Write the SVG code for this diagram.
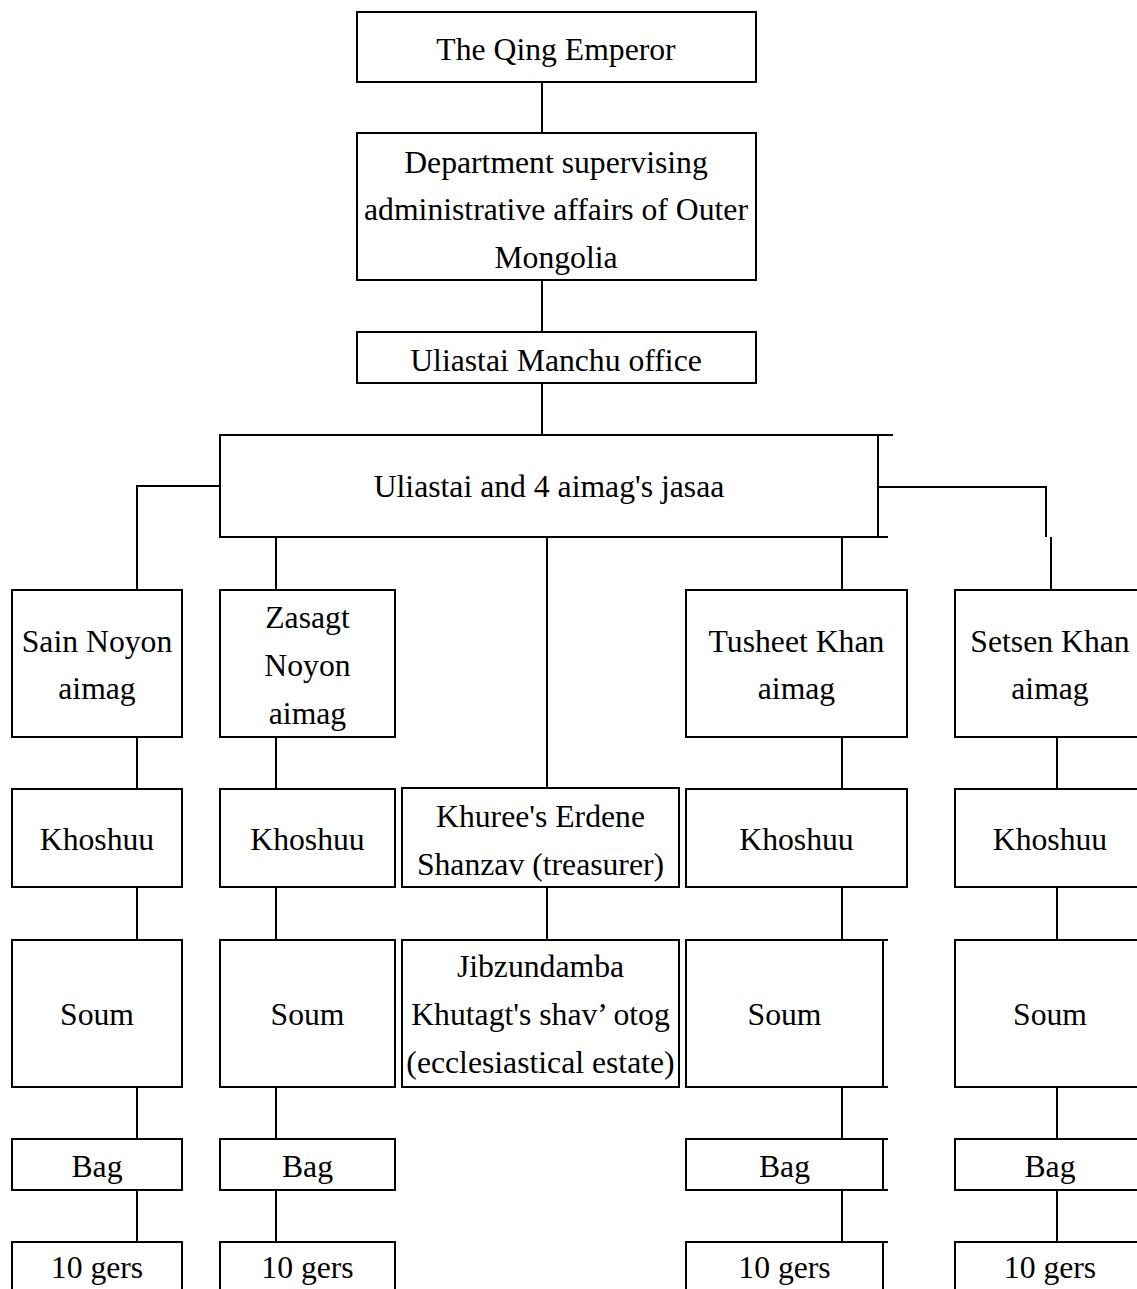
<svg xmlns="http://www.w3.org/2000/svg" width="1137" height="1289" viewBox="0 0 1137 1289">
<style>
.b{fill:#fff;stroke:#000;stroke-width:2}
.l{fill:none;stroke:#000;stroke-width:2}
text{font-family:"Liberation Serif","Times New Roman",serif;font-size:31.7px;fill:#000;text-anchor:middle}
</style>
<rect width="1137" height="1289" fill="#fff"/>
<g id="connectors" class="l">
<line x1="542" y1="82" x2="542" y2="133"/>
<line x1="542" y1="280" x2="542" y2="332"/>
<line x1="542" y1="383" x2="542" y2="435"/>
<polyline points="220,486 137,486 137,590"/>
<line x1="276" y1="537" x2="276" y2="590"/>
<line x1="547" y1="537" x2="547" y2="788"/>
<line x1="842" y1="537" x2="842" y2="590"/>
<polyline points="878,487 1046,487 1046,537"/>
<line x1="1051" y1="537" x2="1051" y2="590"/>
<line x1="137" y1="737" x2="137" y2="789"/>
<line x1="137" y1="887" x2="137" y2="940"/>
<line x1="137" y1="1087" x2="137" y2="1139"/>
<line x1="137" y1="1190" x2="137" y2="1242"/>
<line x1="276" y1="737" x2="276" y2="789"/>
<line x1="276" y1="887" x2="276" y2="940"/>
<line x1="276" y1="1087" x2="276" y2="1139"/>
<line x1="276" y1="1190" x2="276" y2="1242"/>
<line x1="547" y1="887" x2="547" y2="940"/>
<line x1="842" y1="737" x2="842" y2="789"/>
<line x1="842" y1="887" x2="842" y2="940"/>
<line x1="842" y1="1087" x2="842" y2="1139"/>
<line x1="842" y1="1190" x2="842" y2="1242"/>
<line x1="1057" y1="737" x2="1057" y2="789"/>
<line x1="1057" y1="887" x2="1057" y2="940"/>
<line x1="1057" y1="1087" x2="1057" y2="1139"/>
<line x1="1057" y1="1190" x2="1057" y2="1242"/>
</g>
<g id="qing"><rect class="b" x="357" y="12" width="399" height="70"/><text x="556" y="60">The Qing Emperor</text></g>
<g id="department"><rect class="b" x="357" y="133" width="399" height="147"/><text x="556" y="173">Department supervising</text><text x="556" y="220">administrative affairs of Outer</text><text x="556" y="268">Mongolia</text></g>
<g id="manchu-office"><rect class="b" x="357" y="332" width="399" height="51"/><text x="556" y="371">Uliastai Manchu office</text></g>
<g id="jasaa"><rect class="b" x="220" y="435" width="658" height="102"/><line class="l" x1="878" y1="435" x2="893" y2="435"/><line class="l" x1="878" y1="537" x2="888" y2="537"/><text x="549" y="497">Uliastai and 4 aimag's jasaa</text></g>
<g id="sain-noyon"><rect class="b" x="12" y="590" width="170" height="147"/><text x="97" y="652">Sain Noyon</text><text x="97" y="699">aimag</text></g>
<g id="zasagt"><rect class="b" x="220" y="590" width="175" height="147"/><text x="307.5" y="628">Zasagt</text><text x="307.5" y="676">Noyon</text><text x="307.5" y="724">aimag</text></g>
<g id="tusheet"><rect class="b" x="686" y="590" width="221" height="147"/><text x="796.5" y="652">Tusheet Khan</text><text x="796.5" y="699">aimag</text></g>
<g id="setsen"><rect class="b" x="955" y="590" width="190" height="147"/><text x="1050" y="652">Setsen Khan</text><text x="1050" y="699">aimag</text></g>
<g id="khoshuu-1"><rect class="b" x="12" y="789" width="170" height="98"/><text x="97" y="850">Khoshuu</text></g>
<g id="khoshuu-2"><rect class="b" x="220" y="789" width="175" height="98"/><text x="307.5" y="850">Khoshuu</text></g>
<g id="khuree"><rect class="b" x="402" y="788" width="277" height="99"/><text x="540.5" y="827">Khuree's Erdene</text><text x="540.5" y="875">Shanzav (treasurer)</text></g>
<g id="khoshuu-4"><rect class="b" x="686" y="789" width="221" height="98"/><text x="796.5" y="850">Khoshuu</text></g>
<g id="khoshuu-5"><rect class="b" x="955" y="789" width="190" height="98"/><text x="1050" y="850">Khoshuu</text></g>
<g id="soum-1"><rect class="b" x="12" y="940" width="170" height="147"/><text x="97" y="1025">Soum</text></g>
<g id="soum-2"><rect class="b" x="220" y="940" width="175" height="147"/><text x="307.5" y="1025">Soum</text></g>
<g id="jibzundamba"><rect class="b" x="402" y="940" width="277" height="147"/><text x="540.5" y="977">Jibzundamba</text><text x="540.5" y="1025">Khutagt's shav’ otog</text><text x="540.5" y="1073">(ecclesiastical estate)</text></g>
<g id="soum-4"><rect class="b" x="686" y="940" width="197" height="147"/><line class="l" x1="883" y1="940" x2="888" y2="940"/><line class="l" x1="883" y1="1087" x2="888" y2="1087"/><text x="784.5" y="1025">Soum</text></g>
<g id="soum-5"><rect class="b" x="955" y="940" width="190" height="147"/><text x="1050" y="1025">Soum</text></g>
<g id="bag-1"><rect class="b" x="12" y="1139" width="170" height="51"/><text x="97" y="1177">Bag</text></g>
<g id="bag-2"><rect class="b" x="220" y="1139" width="175" height="51"/><text x="307.5" y="1177">Bag</text></g>
<g id="bag-4"><rect class="b" x="686" y="1139" width="197" height="51"/><line class="l" x1="883" y1="1139" x2="888" y2="1139"/><line class="l" x1="883" y1="1190" x2="888" y2="1190"/><text x="784.5" y="1177">Bag</text></g>
<g id="bag-5"><rect class="b" x="955" y="1139" width="190" height="51"/><text x="1050" y="1177">Bag</text></g>
<g id="gers-1"><rect class="b" x="12" y="1242" width="170" height="60"/><text x="97" y="1278">10 gers</text></g>
<g id="gers-2"><rect class="b" x="220" y="1242" width="175" height="60"/><text x="307.5" y="1278">10 gers</text></g>
<g id="gers-4"><rect class="b" x="686" y="1242" width="197" height="60"/><line class="l" x1="883" y1="1242" x2="888" y2="1242"/><text x="784.5" y="1278">10 gers</text></g>
<g id="gers-5"><rect class="b" x="955" y="1242" width="190" height="60"/><text x="1050" y="1278">10 gers</text></g>
</svg>
